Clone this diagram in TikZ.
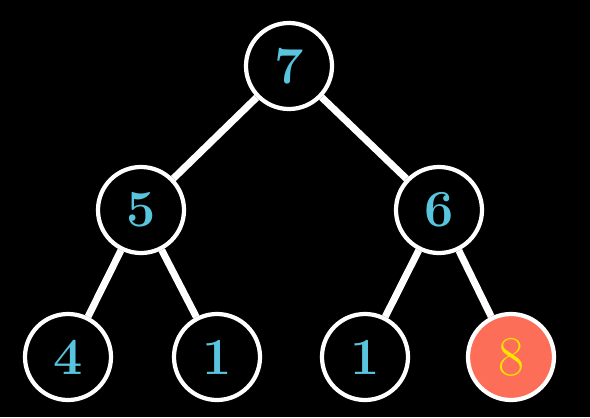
\documentclass[tikz,border=0pt]{standalone}
\usepackage{fix-cm}
\usepackage{tikz}
\usetikzlibrary{positioning}
\definecolor{heapblue}{RGB}{88,196,221}
\definecolor{heapred}{RGB}{252,110,88}
\definecolor{heapyellow}{RGB}{255,228,0}

\begin{document}
\begin{tikzpicture}[
    x=0.025cm, y=0.025cm,
    heapnode/.style={circle, draw=white, line width=3pt, fill=black,
                     minimum size=2.15cm, inner sep=0pt, text=heapblue,
                     font=\fontsize{37}{37}\selectfont\bfseries},
    hotnode/.style={heapnode, fill=heapred, text=heapyellow,
                    font=\fontsize{40}{40}\selectfont},
    edge/.style={white, line width=5pt}
]
\fill[black] (0,0) rectangle (590,417);
\node[heapnode] (N7) at (289,351) {7};
\node[heapnode] (N5) at (141,207) {5};
\node[heapnode] (N6) at (439,207) {6};
\node[heapnode] (N4) at (68,60)  {4};
\node[heapnode] (N1a) at (217,60) {1};
\node[heapnode] (N1b) at (365,60) {1};
\node[hotnode]  (N8) at (511,60) {8};
\draw[edge] (N7) -- (N5);
\draw[edge] (N7) -- (N6);
\draw[edge] (N5) -- (N4);
\draw[edge] (N5) -- (N1a);
\draw[edge] (N6) -- (N1b);
\draw[edge] (N6) -- (N8);
\end{tikzpicture}
\end{document}
